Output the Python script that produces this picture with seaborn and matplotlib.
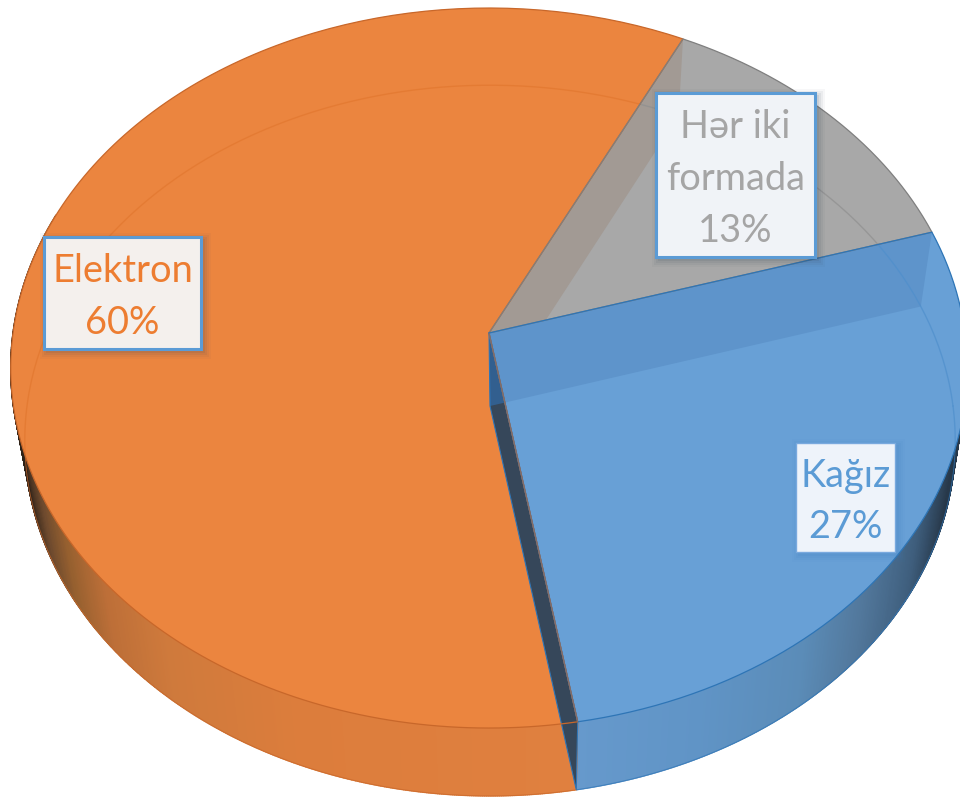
import numpy as np
import matplotlib
matplotlib.use('Agg')
import matplotlib.pyplot as plt
from matplotlib.collections import PolyCollection
from matplotlib.colors import LinearSegmentedColormap
from matplotlib.patches import Polygon, Rectangle
import seaborn as sns

sns.set_theme(style="white")
plt.rcParams['font.family'] = ['Lato', 'Noto Sans', 'DejaVu Sans']

# Data, clockwise from the blue/gray seam
names = ['Kağız', 'Elektron', 'Hər iki\nformada']
shares = [27, 60, 13]

palette = sns.color_palette(['#5b9bd5', '#ed7d31', '#a5a5a5'])
top_colors = ['#68a0d6', '#eb853f', '#a8a8a8']
edge_colors = ['#2e75b6', '#c8672a', '#7f7f7f']
ring_colors = ['#4f8fcc', '#e2772f', '#8f8f8f']
wall_colors = ['#5e94cb', '#d87a3a', '#a29a94']
box_fills = ['#eef3fa', '#f4f0ed', '#f0f3f7']

# Camera: the pie is a tilted disc with a little perspective
start_angle = 16.9
persp = -0.0973
top_disc = (489, 333, 476, 356.6)
bot_disc = (490, 406, 463, 352)


def project(phi, disc):
    cx, cy, rx, ry = disc
    c = np.cos(np.radians(phi))
    s = -np.sin(np.radians(phi))
    d = 1 + persp * s
    return np.column_stack([cx + rx * c / d, cy + ry * s / d])


def arc(a, b, disc, n=200):
    return project(np.linspace(a, b, n), disc)


def apex(disc):
    return np.array([[disc[0], disc[1]]])


# seam angles, going clockwise
seams = start_angle - np.cumsum([0] + shares) * 3.6

fig, ax = plt.subplots(figsize=(9.6, 7.99), dpi=100)
fig.subplots_adjust(0, 0, 1, 1)
ax.set_xlim(0, 960)
ax.set_ylim(799, 0)
ax.axis('off')

# Side band under the disc, shaded across the picture
rim_maps = [
    LinearSegmentedColormap.from_list('b', [(0, '#6699cc'), (0.33, '#6094c6'), (0.6, '#5b8cb8'),
                                            (0.76, '#52789c'), (0.9, '#3f5f7e'), (1, '#27384a')]),
    LinearSegmentedColormap.from_list('o', [(0, '#2e2218'), (0.045, '#6e4a2e'), (0.09, '#96602f'),
                                            (0.16, '#bd6f38'), (0.27, '#cf7a3c'), (0.5, '#dc7d3c'),
                                            (1, '#e0803f')]),
]
rim_ranges = [(seams[1], 0), (seams[1], -200)]
rim_clims = [(575, 950), (20, 575)]
for i, (a, b) in enumerate(rim_ranges):
    phis = np.linspace(a, b, 500)
    t_pts = project(phis, top_disc)
    b_pts = project(phis, bot_disc)
    quads = [[t_pts[j], t_pts[j + 1], b_pts[j + 1], b_pts[j]] for j in range(len(phis) - 1)]
    mid_x = (t_pts[:-1, 0] + b_pts[:-1, 0]) / 2
    ax.add_collection(PolyCollection(quads, array=mid_x, cmap=rim_maps[i], clim=rim_clims[i],
                                     edgecolors='face', linewidths=1.0, zorder=1))
    ax.plot(b_pts[:, 0], b_pts[:, 1], color=edge_colors[i], lw=0.7, alpha=0.7, zorder=1.5)

# Top faces, with the walls and the far ring showing through
for i in [1, 2, 0]:
    outline = np.vstack([apex(top_disc), arc(seams[i], seams[i + 1], top_disc)])
    face = Polygon(outline, closed=True, facecolor=top_colors[i], edgecolor='none', zorder=2)
    ax.add_patch(face)
    ring = arc(0, 360, bot_disc, 400)
    line, = ax.plot(ring[:, 0], ring[:, 1], color=ring_colors[i], lw=1.0, alpha=0.7, zorder=2.2)
    line.set_clip_path(face)
    if i == 1:
        continue
    seam = seams[i]
    wall = np.vstack([apex(top_disc), project(seam, top_disc), project(seam, bot_disc), apex(bot_disc)])
    w = Polygon(wall, closed=True, facecolor=wall_colors[i], edgecolor='none', zorder=2.1)
    ax.add_patch(w)
    w.set_clip_path(face)

# Dark wall on the blue/orange seam
seam = seams[1]
dark = np.vstack([apex(top_disc), apex(bot_disc), project(seam, bot_disc), project(seam, top_disc)])
dark_patch = Polygon(dark, closed=True, facecolor='#36475a', edgecolor='#2e75b6', lw=0.8, zorder=3)
ax.add_patch(dark_patch)
blue_wall = np.vstack([apex(top_disc), project(seams[0], top_disc), project(seams[0], bot_disc), apex(bot_disc)])
tint = Polygon(blue_wall, closed=True, facecolor='#2f78c4', edgecolor='none', alpha=0.5, zorder=3.1)
ax.add_patch(tint)
tint.set_clip_path(dark_patch)

# Outlines
for i in [1, 2, 0]:
    pts = np.vstack([apex(top_disc), arc(seams[i], seams[i + 1], top_disc), apex(top_disc)])
    ax.plot(pts[:, 0], pts[:, 1], color=edge_colors[i], lw=0.9, zorder=3.5)
seam_line = np.vstack([apex(top_disc), project(seam, top_disc)])
ax.plot(seam_line[:, 0], seam_line[:, 1], color=edge_colors[1], lw=0.8, alpha=0.6, zorder=3.6)

# Label boxes
boxes = [(796, 443, 895, 552), (44, 237, 201, 349), (656, 93, 815, 257)]
border = ['#79a9de', '#5b9bd5', '#5b9bd5']
border_w = [1.0, 2.2, 2.2]
for i, (x0, y0, x1, y1) in enumerate(boxes):
    for grow, al in [(7, 0.04), (5, 0.06), (3, 0.08), (1, 0.1)]:
        ax.add_patch(Rectangle((x0 + 3 - grow, y0 + 3 - grow), x1 - x0 + 2 * grow, y1 - y0 + 2 * grow,
                               facecolor='#3a4a5a' if i != 0 else '#3f7fc0', edgecolor='none', alpha=al, zorder=4))
    ax.add_patch(Rectangle((x0, y0), x1 - x0, y1 - y0, facecolor=box_fills[i],
                           edgecolor=border[i], lw=border_w[i], zorder=5))
    ax.text((x0 + x1) / 2, (y0 + y1) / 2 + 4, f'{names[i]}\n{shares[i]}%', ha='center', va='center',
            color=palette[i], fontsize=27.4, linespacing=1.55, zorder=6)

fig.savefig('out.png', dpi=100)
